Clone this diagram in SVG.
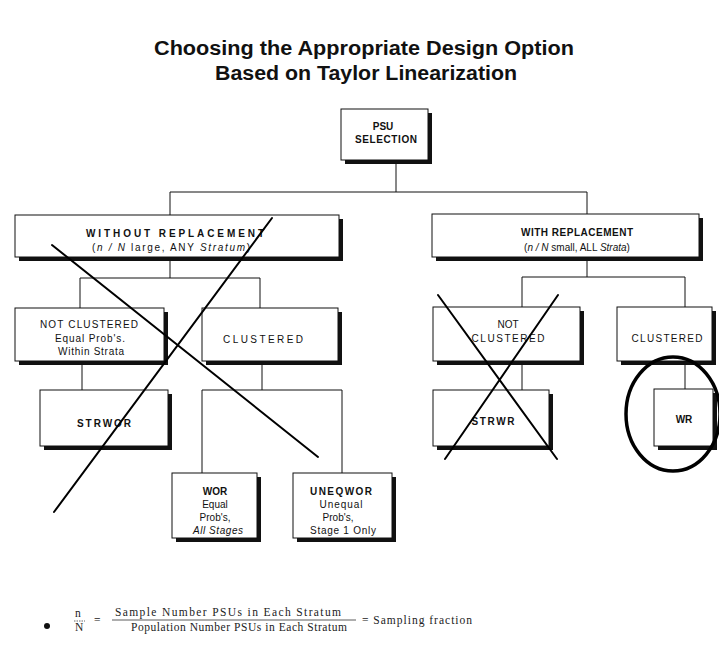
<svg xmlns="http://www.w3.org/2000/svg" width="719" height="645" viewBox="0 0 719 645">
<style>
.t{font-family:"Liberation Sans",Arial,sans-serif;fill:#111;text-anchor:middle;font-size:10px}
.b{font-weight:bold}
.i{font-style:italic}
.box{fill:#fff;stroke:#111;stroke-width:1}
.sh{fill:#111}
.c{stroke:#111;stroke-width:1;fill:none}
.x{stroke:#000;stroke-width:2;fill:none;stroke-linecap:round}
.f{font-family:"Liberation Serif","Times New Roman",serif;fill:#222;font-size:11.5px}
</style>
<rect width="719" height="645" fill="#fff"/>
<g id="title">
<text class="t b" x="364" y="55" style="font-size:20px" textLength="420" lengthAdjust="spacingAndGlyphs">Choosing the Appropriate Design Option</text>
<text class="t b" x="366" y="80" style="font-size:20px" textLength="302" lengthAdjust="spacingAndGlyphs">Based on Taylor Linearization</text>
</g>
<g id="connectors">
<path class="c" d="M396 164V192M170 192H587M170 192V215M587 192V214"/>
<path class="c" d="M170 261V278M80 278H260M80 278V308M260 278V308"/>
<path class="c" d="M587 261V277M522 277H685M522 277V307M685 277V307"/>
<path class="c" d="M82 365V390M262 365V390M202 390H342M202 390V473M342 390V473"/>
<path class="c" d="M522 365V390M685 365V389"/>
</g>
<g id="psu">
<rect class="sh" x="345" y="113" width="87" height="51"/>
<rect class="box" x="341" y="109" width="87" height="51"/>
<text class="t b" x="383" y="130">PSU</text>
<text class="t b" x="386" y="143" textLength="62">SELECTION</text>
</g>
<g id="without">
<rect class="sh" x="19" y="219" width="324" height="42"/>
<rect class="box" x="15" y="215" width="324" height="42"/>
<text class="t b" x="175" y="237" textLength="178">WITHOUT REPLACEMENT</text>
<text class="t" x="171" y="251" textLength="158">(<tspan class="i">n / N</tspan> large, ANY <tspan class="i">Stratum</tspan>)</text>
</g>
<g id="with">
<rect class="sh" x="436" y="218" width="267" height="43"/>
<rect class="box" x="432" y="214" width="267" height="43"/>
<text class="t b" x="577" y="236" textLength="112">WITH REPLACEMENT</text>
<text class="t" x="577" y="251">(<tspan class="i">n / N</tspan> small, ALL <tspan class="i">Strata</tspan>)</text>
</g>
<g id="notclustered-l">
<rect class="sh" x="19" y="312" width="149" height="53"/>
<rect class="box" x="15" y="308" width="149" height="53"/>
<text class="t" x="89" y="328" textLength="98">NOT CLUSTERED</text>
<text class="t" x="90" y="342" textLength="70">Equal Prob's.</text>
<text class="t" x="91" y="355" textLength="66">Within Strata</text>
</g>
<g id="clustered-l">
<rect class="sh" x="206" y="312" width="136" height="53"/>
<rect class="box" x="202" y="308" width="136" height="53"/>
<text class="t" x="263" y="343" textLength="80">CLUSTERED</text>
</g>
<g id="strwor">
<rect class="sh" x="44" y="394" width="128" height="56"/>
<rect class="box" x="40" y="390" width="128" height="56"/>
<text class="t b" x="104" y="427" textLength="54">STRWOR</text>
</g>
<g id="wor">
<rect class="sh" x="176" y="477" width="85" height="65"/>
<rect class="box" x="172" y="473" width="85" height="65"/>
<text class="t b" x="215" y="495">WOR</text>
<text class="t" x="215" y="508">Equal</text>
<text class="t" x="215" y="521">Prob's,</text>
<text class="t i" x="218" y="534" textLength="50">All Stages</text>
</g>
<g id="uneqwor">
<rect class="sh" x="297" y="477" width="99" height="65"/>
<rect class="box" x="293" y="473" width="99" height="65"/>
<text class="t b" x="341" y="495" textLength="62">UNEQWOR</text>
<text class="t" x="341" y="508" textLength="43">Unequal</text>
<text class="t" x="338" y="521">Prob's,</text>
<text class="t" x="343" y="534" textLength="66">Stage 1 Only</text>
</g>
<g id="notclustered-r">
<rect class="sh" x="437" y="311" width="147" height="54"/>
<rect class="box" x="433" y="307" width="147" height="54"/>
<text class="t" x="508" y="328">NOT</text>
<text class="t" x="508" y="342" textLength="73">CLUSTERED</text>
</g>
<g id="clustered-r">
<rect class="sh" x="621" y="311" width="95" height="54"/>
<rect class="box" x="617" y="307" width="95" height="54"/>
<text class="t" x="667" y="342" textLength="71">CLUSTERED</text>
</g>
<g id="strwr">
<rect class="sh" x="437" y="394" width="116" height="56"/>
<rect class="box" x="433" y="390" width="116" height="56"/>
<text class="t b" x="493" y="425" textLength="43">STRWR</text>
</g>
<g id="wr">
<rect class="sh" x="658" y="393" width="59" height="57"/>
<rect class="box" x="654" y="389" width="59" height="57"/>
<text class="t b" x="684" y="423">WR</text>
</g>
<g id="marks">
<path class="x" d="M52 245L318 457M272 218L54 512"/>
<path class="x" d="M438 295L557 459M558 295L445 459"/>
<ellipse cx="673" cy="414" rx="47" ry="57" fill="none" stroke="#000" stroke-width="3.5"/>
</g>
<g id="footnote">
<circle cx="47" cy="626" r="3" fill="#111"/>
<text class="f" x="75" y="617">n</text>
<line x1="74" y1="621" x2="85" y2="621" stroke="#444" stroke-width="0.8" stroke-dasharray="1.5 1"/>
<text class="f" x="75" y="631">N</text>
<text class="f" x="94" y="624">=</text>
<text class="f" x="115" y="616" textLength="226">Sample Number PSUs in Each Stratum</text>
<line x1="112" y1="620" x2="356" y2="620" stroke="#333" stroke-width="0.8"/>
<text class="f" x="131" y="631" textLength="216">Population Number PSUs in Each Stratum</text>
<text class="f" x="362" y="624" textLength="110">= Sampling fraction</text>
</g>
</svg>
